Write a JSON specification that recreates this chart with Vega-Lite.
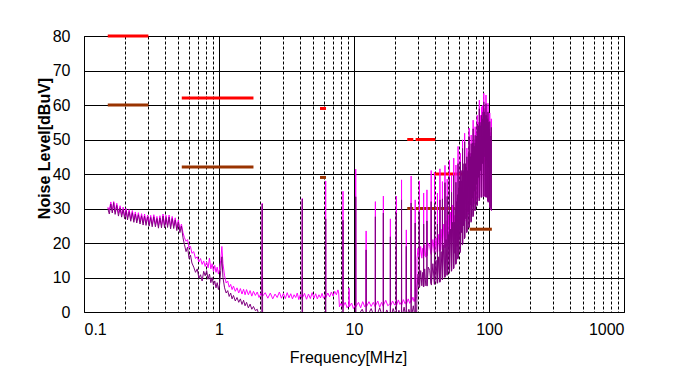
{
"$schema": "https://vega.github.io/schema/vega-lite/v6.json",
"width": 540, "height": 276,
"autosize": {"type": "none"},
"padding": {"left": 84, "top": 36, "right": 54, "bottom": 67},
"background": "white",
"config": {"view": {"stroke": "black", "strokeWidth": 1}, "font": "Liberation Sans"},
"datasets": {
"limits": [
{"f":0.15,"f2":0.3,"v":80,"k":"Peak limit"},
{"f":0.53,"f2":1.8,"v":62,"k":"Peak limit"},
{"f":5.6,"f2":6.2,"v":59,"k":"Peak limit"},
{"f":24.8,"f2":27.5,"v":50,"k":"Peak limit"},
{"f":28.6,"f2":40,"v":50,"k":"Peak limit"},
{"f":39,"f2":82,"v":40,"k":"Peak limit"},
{"f":76,"f2":105,"v":44,"k":"Peak limit"},
{"f":0.15,"f2":0.3,"v":60,"k":"Average limit"},
{"f":0.53,"f2":1.8,"v":42,"k":"Average limit"},
{"f":5.6,"f2":6.2,"v":39,"k":"Average limit"},
{"f":24.8,"f2":27.5,"v":30,"k":"Average limit"},
{"f":28.6,"f2":66,"v":30,"k":"Average limit"},
{"f":72,"f2":105,"v":24,"k":"Average limit"}
],
"peak": [
{"f":0.150,"v":30.4},{"f":0.154,"v":29.5},{"f":0.158,"v":31.9},{"f":0.162,"v":29.4},{"f":0.166,"v":32.0},{"f":0.170,"v":29.0},{"f":0.175,"v":31.5},{"f":0.180,"v":28.6},{"f":0.185,"v":30.8},{"f":0.190,"v":28.2},{"f":0.195,"v":30.4},{"f":0.200,"v":27.8},{"f":0.205,"v":30.0},{"f":0.210,"v":27.4},{"f":0.216,"v":29.7},{"f":0.222,"v":27.0},{"f":0.228,"v":29.4},{"f":0.234,"v":26.7},{"f":0.240,"v":29.0},{"f":0.246,"v":26.5},{"f":0.253,"v":28.8},{"f":0.260,"v":26.2},{"f":0.267,"v":28.5},{"f":0.274,"v":25.9},{"f":0.281,"v":28.4},{"f":0.288,"v":25.8},{"f":0.296,"v":28.1},{"f":0.304,"v":25.6},{"f":0.312,"v":28.0},{"f":0.320,"v":25.4},{"f":0.329,"v":28.2},{"f":0.338,"v":25.4},{"f":0.347,"v":27.7},{"f":0.356,"v":25.0},{"f":0.365,"v":27.9},{"f":0.375,"v":25.1},{"f":0.385,"v":28.4},{"f":0.395,"v":25.1},{"f":0.405,"v":28.0},{"f":0.416,"v":25.2},{"f":0.427,"v":28.1},{"f":0.438,"v":24.8},{"f":0.450,"v":27.7},{"f":0.462,"v":24.9},{"f":0.474,"v":27.3},{"f":0.487,"v":24.3},{"f":0.500,"v":26.7},{"f":0.513,"v":23.8},{"f":0.527,"v":25.5},{"f":0.541,"v":23.0},{"f":0.555,"v":21.5},
{"f":0.57,"v":20.5},{"f":0.585,"v":21.0},{"f":0.60,"v":18.5},{"f":0.615,"v":19.0},{"f":0.63,"v":17.0},{"f":0.65,"v":17.5},{"f":0.67,"v":15.5},{"f":0.69,"v":16.0},{"f":0.71,"v":14.5},{"f":0.73,"v":15.5},{"f":0.75,"v":13.8},{"f":0.77,"v":14.8},{"f":0.79,"v":13.2},{"f":0.81,"v":14.5},{"f":0.83,"v":12.8},{"f":0.85,"v":15.6},{"f":0.87,"v":12.5},{"f":0.89,"v":14.0},{"f":0.91,"v":11.8},{"f":0.93,"v":13.5},{"f":0.95,"v":11.5},{"f":0.97,"v":13.0},{"f":0.99,"v":11.0},{"f":1.01,"v":12.5},{"f":1.03,"v":15.0},{"f":1.05,"v":19.0},{"f":1.07,"v":14.0},{"f":1.10,"v":10.5},{"f":1.13,"v":8.4},{"f":1.16,"v":9.0},{"f":1.19,"v":7.2},{"f":1.22,"v":8.0},{"f":1.25,"v":6.5},{"f":1.28,"v":7.5},{"f":1.32,"v":6.0},{"f":1.36,"v":7.0},{"f":1.40,"v":5.5},{"f":1.44,"v":6.8},{"f":1.48,"v":5.2},{"f":1.52,"v":6.6},{"f":1.56,"v":5.0},{"f":1.60,"v":6.5},{"f":1.65,"v":5.0},{"f":1.70,"v":6.2},{"f":1.75,"v":4.6},{"f":1.80,"v":6.0},{"f":1.86,"v":4.8},{"f":1.92,"v":5.8},{"f":1.98,"v":4.2},{"f":2.05,"v":5.5},{"f":2.075,"v":4.8},{"f":2.09,"v":31.5},{"f":2.105,"v":4.6},{"f":2.2,"v":5.6},{"f":2.3,"v":4.0},{"f":2.4,"v":5.5},{"f":2.5,"v":3.8},{"f":2.6,"v":5.2},{"f":2.7,"v":4.2},{"f":2.8,"v":5.8},{"f":2.9,"v":4.0},{"f":3.0,"v":5.4},{"f":3.1,"v":3.9},{"f":3.2,"v":5.6},{"f":3.3,"v":4.1},{"f":3.4,"v":5.3},{"f":3.5,"v":3.8},{"f":3.6,"v":5.0},{"f":3.7,"v":4.2},{"f":3.8,"v":5.5},{"f":3.9,"v":3.6},{"f":4.0,"v":5.0},{"f":4.12,"v":4.0},{"f":4.14,"v":32.9},{"f":4.16,"v":4.2},{"f":4.3,"v":5.4},{"f":4.45,"v":3.7},{"f":4.6,"v":5.2},{"f":4.75,"v":3.9},{"f":4.9,"v":5.6},{"f":5.05,"v":4.0},{"f":5.2,"v":5.3},{"f":5.35,"v":3.8},{"f":5.5,"v":5.0},{"f":5.65,"v":4.1},{"f":5.8,"v":5.4},{"f":5.95,"v":4.0},{"f":6.15,"v":5.0},{"f":6.17,"v":38.0},{"f":6.19,"v":4.2},{"f":6.4,"v":5.5},{"f":6.6,"v":4.4},{"f":6.8,"v":5.8},{"f":7.0,"v":4.6},{"f":7.2,"v":6.0},{"f":7.4,"v":5.0},{"f":7.6,"v":6.4},{"f":7.7,"v":5.5},{"f":7.8,"v":1.5},{"f":8.0,"v":2.5},{"f":8.27,"v":1.2},{"f":8.29,"v":35.0},{"f":8.31,"v":1.5},{"f":8.6,"v":2.8},{"f":8.9,"v":1.2},{"f":9.15,"v":2.0},{"f":9.2,"v":7.0},{"f":9.25,"v":1.5},{"f":9.6,"v":2.6},{"f":9.9,"v":1.0},{"f":10.27,"v":2.2},{"f":10.3,"v":41.4},{"f":10.33,"v":1.5},{"f":10.8,"v":2.8},{"f":11.2,"v":1.2},{"f":11.6,"v":3.0},{"f":12.0,"v":1.5},{"f":12.27,"v":2.0},{"f":12.3,"v":23.5},{"f":12.33,"v":1.4},{"f":12.9,"v":3.0},{"f":13.4,"v":1.6},{"f":13.9,"v":2.8},{"f":14.37,"v":1.5},{"f":14.4,"v":32.0},{"f":14.43,"v":1.8},{"f":15.0,"v":3.2},{"f":15.5,"v":1.4},{"f":16.0,"v":2.8},{"f":16.47,"v":1.6},{"f":16.5,"v":33.6},{"f":16.53,"v":2.0},{"f":17.2,"v":3.4},{"f":17.8,"v":1.8},{"f":18.57,"v":2.5},{"f":18.6,"v":27.0},{"f":18.63,"v":1.7},{"f":19.3,"v":3.2},{"f":20.0,"v":2.0},{"f":20.57,"v":2.6},{"f":20.6,"v":33.6},{"f":20.63,"v":1.8},{"f":21.3,"v":3.5},{"f":21.9,"v":2.2},{"f":22.47,"v":2.9},{"f":22.5,"v":38.3},{"f":22.53,"v":2.0},{"f":23.2,"v":3.6},{"f":23.9,"v":2.4},{"f":24.37,"v":3.0},{"f":24.4,"v":23.8},{"f":24.43,"v":2.2},{"f":25.2,"v":3.8},{"f":25.9,"v":2.5},{"f":26.47,"v":3.5},{"f":26.5,"v":39.4},{"f":26.53,"v":2.8},{"f":27.3,"v":4.3},{"f":27.9,"v":3.0},{"f":28.37,"v":4.0},{"f":28.4,"v":32.5},{"f":28.43,"v":3.2},{"f":29.1,"v":4.5},
{"f":29.3,"v":15.5},{"f":29.8,"v":18.5},{"f":30.4,"v":15.8},{"f":30.5,"v":38},{"f":30.6,"v":16.0},{"f":31.2,"v":19.0},{"f":31.8,"v":15.6},{"f":32.3,"v":18.5},{"f":32.7,"v":16.1},{"f":32.8,"v":34.5},{"f":32.9,"v":16.2},{"f":33.4,"v":19.5},{"f":34.0,"v":15.9},{"f":34.6,"v":16.4},{"f":34.7,"v":35.4},{"f":34.8,"v":16.3},{"f":35.5,"v":20.0},{"f":36.4,"v":19.0},{"f":37.2,"v":16.9},{"f":37.3,"v":41},{"f":37.4,"v":16.6},{"f":38.4,"v":21.0},{"f":39.4,"v":17.0},{"f":39.5,"v":40.5},{"f":39.6,"v":17.1},{"f":40.5,"v":21.5},{"f":41.4,"v":17.3},{"f":41.5,"v":34.5},{"f":41.6,"v":17.4},{"f":42.4,"v":22.5},{"f":43.2,"v":17.6},{"f":43.3,"v":41.5},{"f":43.4,"v":17.7},{"f":44.2,"v":24.0},{"f":45.1,"v":18.0},{"f":45.2,"v":37.8},{"f":45.3,"v":18.2},{"f":46.2,"v":25.5},{"f":47.1,"v":18.6},{"f":47.2,"v":42.5},{"f":47.3,"v":18.7},{"f":48.1,"v":26.5},{"f":48.9,"v":19.0},{"f":49.0,"v":38.5},{"f":49.1,"v":19.2},{"f":50.0,"v":28.0},{"f":50.8,"v":19.5},{"f":50.9,"v":44},{"f":51.0,"v":19.7},{"f":51.9,"v":29.0},{"f":52.7,"v":20.2},{"f":52.8,"v":39.7},{"f":52.9,"v":20.3},{"f":53.8,"v":31.0},{"f":54.6,"v":20.8},{"f":54.8,"v":44.6},{"f":54.9,"v":21.0},
{"f":55.8,"v":28},{"f":56.7,"v":21.8},{"f":56.9,"v":42.6},{"f":57.1,"v":22.0},{"f":58.0,"v":33},{"f":58.8,"v":22.5},{"f":59.0,"v":48},{"f":59.2,"v":22.8},{"f":60.1,"v":35},{"f":61.1,"v":23.6},{"f":61.3,"v":46},{"f":61.5,"v":24.0},{"f":62.5,"v":38},{"f":63.5,"v":24.8},{"f":63.7,"v":49.9},{"f":63.9,"v":25.2},{"f":64.8,"v":40},{"f":65.8,"v":26.0},{"f":66.0,"v":51.8},{"f":66.2,"v":26.3},{"f":67.3,"v":42},{"f":68.4,"v":27.3},{"f":68.6,"v":47.5},{"f":68.8,"v":27.6},{"f":70.0,"v":44},{"f":71.1,"v":28.5},{"f":71.3,"v":53.3},{"f":71.5,"v":28.8},{"f":72.5,"v":46},{"f":73.6,"v":29.6},{"f":73.8,"v":51.3},{"f":74.0,"v":29.9},{"f":75.0,"v":48},{"f":76.1,"v":30.5},{"f":76.3,"v":55.6},{"f":76.5,"v":30.7},{"f":77.6,"v":50},{"f":78.8,"v":31.3},{"f":79.0,"v":53.7},{"f":79.2,"v":31.5},{"f":80.4,"v":52},{"f":81.6,"v":32.2},{"f":81.8,"v":57},{"f":82.0,"v":32.3},{"f":83.3,"v":55},{"f":84.5,"v":33.0},{"f":84.8,"v":61.4},{"f":85.1,"v":33.2},{"f":86.4,"v":57},{"f":87.7,"v":33.4},{"f":88.0,"v":59.5},{"f":88.3,"v":33.5},{"f":89.7,"v":60},{"f":91.2,"v":33.5},{"f":91.5,"v":63.4},{"f":91.8,"v":33.5},{"f":93.2,"v":59},{"f":94.7,"v":33.4},{"f":95.0,"v":62.9},{"f":95.3,"v":33.3},{"f":96.6,"v":58},{"f":98.0,"v":32.3},{"f":98.3,"v":60.5},{"f":98.6,"v":32.0},{"f":99.8,"v":56},{"f":101.0,"v":30.7},{"f":101.3,"v":57.7},{"f":101.6,"v":30.4},{"f":102.6,"v":52},{"f":103.7,"v":29.6},{"f":104.0,"v":56},{"f":104.3,"v":29.4}
],
"avg": [
{"f":0.150,"v":30.0},{"f":0.154,"v":28.4},{"f":0.158,"v":31.3},{"f":0.162,"v":28.7},{"f":0.166,"v":31.7},{"f":0.170,"v":28.3},{"f":0.175,"v":30.9},{"f":0.180,"v":27.8},{"f":0.185,"v":30.2},{"f":0.190,"v":27.5},{"f":0.195,"v":29.8},{"f":0.200,"v":27.0},{"f":0.205,"v":29.4},{"f":0.210,"v":26.7},{"f":0.216,"v":29.1},{"f":0.222,"v":26.3},{"f":0.228,"v":28.8},{"f":0.234,"v":26.0},{"f":0.240,"v":28.4},{"f":0.246,"v":25.8},{"f":0.253,"v":28.2},{"f":0.260,"v":25.5},{"f":0.267,"v":27.9},{"f":0.274,"v":25.2},{"f":0.281,"v":27.8},{"f":0.288,"v":25.1},{"f":0.296,"v":27.5},{"f":0.304,"v":24.9},{"f":0.312,"v":27.4},{"f":0.320,"v":24.7},{"f":0.329,"v":27.6},{"f":0.338,"v":24.7},{"f":0.347,"v":27.1},{"f":0.356,"v":24.3},{"f":0.365,"v":27.3},{"f":0.375,"v":24.4},{"f":0.385,"v":27.8},{"f":0.395,"v":24.4},{"f":0.405,"v":27.4},{"f":0.416,"v":24.5},{"f":0.427,"v":27.5},{"f":0.438,"v":24.1},{"f":0.450,"v":27.1},{"f":0.462,"v":24.2},{"f":0.474,"v":26.7},{"f":0.487,"v":23.6},{"f":0.500,"v":26.1},{"f":0.513,"v":23.0},{"f":0.527,"v":24.9},{"f":0.541,"v":21.5},{"f":0.555,"v":19.5},
{"f":0.57,"v":17.5},{"f":0.585,"v":18.8},{"f":0.60,"v":15.5},{"f":0.615,"v":16.5},{"f":0.63,"v":14.2},{"f":0.65,"v":13.0},{"f":0.67,"v":11.5},{"f":0.69,"v":12.5},{"f":0.71,"v":9.8},{"f":0.73,"v":10.8},{"f":0.75,"v":9.0},{"f":0.77,"v":11.8},{"f":0.79,"v":10.5},{"f":0.81,"v":12.0},{"f":0.83,"v":9.5},{"f":0.85,"v":11.0},{"f":0.87,"v":8.5},{"f":0.89,"v":10.0},{"f":0.91,"v":7.8},{"f":0.93,"v":9.0},{"f":0.95,"v":7.0},{"f":0.97,"v":8.5},{"f":0.99,"v":6.5},{"f":1.01,"v":8.0},{"f":1.03,"v":12.0},{"f":1.05,"v":16.0},{"f":1.07,"v":10.0},{"f":1.10,"v":7.0},{"f":1.13,"v":5.5},{"f":1.16,"v":6.2},{"f":1.19,"v":4.5},{"f":1.22,"v":5.5},{"f":1.25,"v":3.8},{"f":1.28,"v":4.8},{"f":1.32,"v":3.2},{"f":1.36,"v":4.2},{"f":1.40,"v":2.8},{"f":1.44,"v":3.8},{"f":1.48,"v":2.2},{"f":1.52,"v":3.4},{"f":1.56,"v":1.8},{"f":1.60,"v":2.8},{"f":1.65,"v":1.2},{"f":1.70,"v":2.3},{"f":1.75,"v":0.8},{"f":1.80,"v":1.6},{"f":1.86,"v":0.4},{"f":1.92,"v":0.8},{"f":1.98,"v":-1},
{"f":2.075,"v":-2},{"f":2.09,"v":31.3},{"f":2.105,"v":-2},{"f":4.12,"v":-2},{"f":4.14,"v":32.7},{"f":4.16,"v":-2},{"f":6.15,"v":-2},{"f":6.17,"v":27},{"f":6.19,"v":-2},{"f":8.27,"v":-2},{"f":8.29,"v":26.6},{"f":8.31,"v":-2},{"f":10.27,"v":-2},{"f":10.3,"v":33.4},{"f":10.33,"v":-2},{"f":11.5,"v":0.8},{"f":12.27,"v":-2},{"f":12.3,"v":18},{"f":12.33,"v":-2},{"f":13.4,"v":1.0},{"f":14.37,"v":-2},{"f":14.4,"v":27.6},{"f":14.43,"v":-2},{"f":15.5,"v":1.2},{"f":16.47,"v":-2},{"f":16.5,"v":28.7},{"f":16.53,"v":-2},{"f":17.5,"v":0.6},{"f":18.57,"v":-2},{"f":18.6,"v":21.8},{"f":18.63,"v":-2},{"f":19.5,"v":1.0},{"f":20.57,"v":-2},{"f":20.6,"v":28.7},{"f":20.63,"v":-2},{"f":21.5,"v":0.5},{"f":22.47,"v":-2},{"f":22.5,"v":32.5},{"f":22.53,"v":-2},{"f":23.5,"v":1.4},{"f":24.37,"v":-2},{"f":24.4,"v":19},{"f":24.43,"v":-2},{"f":25.5,"v":0.8},{"f":26.47,"v":-2},{"f":26.5,"v":31.6},{"f":26.53,"v":-2},{"f":27.5,"v":1.8},{"f":28.37,"v":-2},{"f":28.4,"v":25.8},{"f":28.43,"v":-2},{"f":29.1,"v":-1},
{"f":29.3,"v":7.0},{"f":29.8,"v":11.0},{"f":30.4,"v":7.0},{"f":30.5,"v":29},{"f":30.6,"v":7.2},{"f":31.2,"v":12.0},{"f":31.8,"v":7.6},{"f":32.3,"v":11.5},{"f":32.7,"v":7.3},{"f":32.8,"v":25.5},{"f":32.9,"v":7.4},{"f":33.4,"v":12.5},{"f":34.0,"v":7.6},{"f":34.6,"v":7.9},{"f":34.7,"v":26.4},{"f":34.8,"v":7.5},{"f":35.5,"v":13.0},{"f":36.4,"v":12.0},{"f":37.2,"v":8.2},{"f":37.3,"v":32},{"f":37.4,"v":7.8},{"f":38.4,"v":14.0},{"f":39.4,"v":8.0},{"f":39.5,"v":31.5},{"f":39.6,"v":8.1},{"f":40.5,"v":15.0},{"f":41.4,"v":8.3},{"f":41.5,"v":25.5},{"f":41.6,"v":8.4},{"f":42.4,"v":16.0},{"f":43.2,"v":8.6},{"f":43.3,"v":32.5},{"f":43.4,"v":8.8},{"f":44.2,"v":17.5},{"f":45.1,"v":9.3},{"f":45.2,"v":32.8},{"f":45.3,"v":9.5},{"f":46.2,"v":19.5},{"f":47.1,"v":10.0},{"f":47.2,"v":37.5},{"f":47.3,"v":10.2},{"f":48.1,"v":21.0},{"f":48.9,"v":10.6},{"f":49.0,"v":33.5},{"f":49.1,"v":10.8},{"f":50.0,"v":22.5},{"f":50.8,"v":11.2},{"f":50.9,"v":39},{"f":51.0,"v":11.4},{"f":51.9,"v":24.0},{"f":52.7,"v":11.8},{"f":52.8,"v":34.7},{"f":52.9,"v":12.0},{"f":53.8,"v":26.0},{"f":54.6,"v":12.5},{"f":54.8,"v":39.6},{"f":54.9,"v":12.7},
{"f":55.5,"v":26},{"f":55.9,"v":17},{"f":56.3,"v":30},{"f":56.7,"v":13.8},{"f":56.9,"v":37.6},{"f":57.1,"v":14.0},{"f":57.6,"v":32},{"f":58.0,"v":19},{"f":58.4,"v":34},{"f":58.8,"v":15.3},{"f":59.0,"v":43},{"f":59.2,"v":15.6},{"f":59.7,"v":36},{"f":60.1,"v":21},{"f":60.6,"v":38},{"f":61.1,"v":17.2},{"f":61.3,"v":43.5},{"f":61.5,"v":17.6},{"f":62.1,"v":38},{"f":62.5,"v":23},{"f":62.9,"v":41},{"f":63.5,"v":19.4},{"f":63.7,"v":47.4},{"f":63.9,"v":19.7},{"f":64.4,"v":41},{"f":64.8,"v":25},{"f":65.2,"v":43},{"f":65.8,"v":21.2},{"f":66.0,"v":49.3},{"f":66.2,"v":21.5},{"f":66.8,"v":43},{"f":67.3,"v":27},{"f":67.8,"v":42},{"f":68.4,"v":23.0},{"f":68.6,"v":45},{"f":68.8,"v":23.3},{"f":69.5,"v":41},{"f":70.0,"v":29},{"f":70.4,"v":46},{"f":71.1,"v":24.4},{"f":71.3,"v":50.8},{"f":71.5,"v":24.7},{"f":72.1,"v":46},{"f":72.5,"v":31},{"f":72.9,"v":45},{"f":73.6,"v":26.0},{"f":73.8,"v":48.8},{"f":74.0,"v":26.3},{"f":74.6,"v":46},{"f":75.0,"v":33},{"f":75.5,"v":49},{"f":76.1,"v":27.6},{"f":76.3,"v":53.1},{"f":76.5,"v":27.9},{"f":77.2,"v":49},{"f":77.6,"v":35},{"f":78.1,"v":48},{"f":78.8,"v":29.3},{"f":79.0,"v":51.2},{"f":79.2,"v":29.6},{"f":79.9,"v":49},{"f":80.4,"v":37},{"f":80.9,"v":51},{"f":81.6,"v":30.8},{"f":81.8,"v":54.5},{"f":82.0,"v":31.0},{"f":82.8,"v":53},{"f":83.3,"v":39},{"f":83.8,"v":54},{"f":84.5,"v":32.2},{"f":84.8,"v":58.9},{"f":85.1,"v":32.5},{"f":85.8,"v":55},{"f":86.4,"v":41},{"f":87.0,"v":54},{"f":87.7,"v":33.2},{"f":88.0,"v":57},{"f":88.3,"v":33.3},{"f":89.1,"v":56},{"f":89.7,"v":43},{"f":90.3,"v":58},{"f":91.2,"v":33.5},{"f":91.5,"v":60.9},{"f":91.8,"v":33.5},{"f":92.6,"v":58},{"f":93.2,"v":45},{"f":93.9,"v":57},{"f":94.7,"v":33.4},{"f":95.0,"v":60.4},{"f":95.3,"v":33.2},{"f":96.1,"v":57},{"f":96.6,"v":44},{"f":97.2,"v":56},{"f":98.0,"v":32.3},{"f":98.3,"v":58},{"f":98.6,"v":31.8},{"f":99.3,"v":55},{"f":99.8,"v":42},{"f":100.3,"v":53},{"f":101.0,"v":30.6},{"f":101.3,"v":55.2},{"f":101.6,"v":30.2},{"f":102.2,"v":50},{"f":102.6,"v":40},{"f":103.1,"v":51},{"f":103.7,"v":29.6},{"f":104.0,"v":53.5},{"f":104.3,"v":29.4}
]
},
"encoding": {
"x": {"field": "f", "type": "quantitative",
 "scale": {"type": "log", "domain": [0.1, 1000]},
 "axis": {
  "values": [0.1,0.2,0.3,0.4,0.5,0.6,0.7,0.8,0.9,1,2,3,4,5,6,7,8,9,10,20,30,40,50,60,70,80,90,100,200,300,400,500,600,700,800,900,1000],
  "labelExpr": "abs(log(datum.value)/LN10 - round(log(datum.value)/LN10)) < 0.001 ? format(datum.value, '~g') : ''",
  "labelFlush": true, "labelOverlap": false, "labelFontSize": 16, "labelColor": "black", "labelPadding": 9,
  "ticks": false, "domain": false,
  "grid": true, "gridColor": "black", "gridOpacity": 1, "gridWidth": 1,
  "gridDash": {"condition": {"test": "abs(log(datum.value)/LN10 - round(log(datum.value)/LN10)) < 0.001", "value": []}, "value": [3, 2]},
  "title": "Frequency[MHz]", "titleFontSize": 16, "titleFontWeight": "normal", "titleColor": "black",
  "titleX": 264, "titleY": 45, "titleBaseline": "middle", "titleAlign": "center"
 }},
"y": {"field": "v", "type": "quantitative",
 "scale": {"domain": [0, 80]},
 "axis": {
  "values": [0,10,20,30,40,50,60,70,80],
  "ticks": false, "domain": false,
  "grid": true, "gridColor": "black", "gridOpacity": 1, "gridWidth": 1,
  "labelFontSize": 16, "labelColor": "black", "labelPadding": 14,
  "title": "Noise Level[dBuV]", "titleFontSize": 16, "titleFontWeight": "bold", "titleColor": "black",
  "titleX": -40, "titleY": 112, "titleAngle": -90, "titleAlign": "center", "titleBaseline": "middle"
 }}
},
"layer": [
{"data": {"name": "limits"}, "mark": {"type": "rule", "strokeWidth": 3},
 "encoding": {"x2": {"field": "f2"},
  "color": {"field": "k", "type": "nominal", "scale": {"domain": ["Peak limit", "Average limit"], "range": ["#FF0000", "#993300"]}, "legend": null}}},
{"data": {"name": "peak"}, "mark": {"type": "line", "color": "#FF00FF", "strokeWidth": 1, "clip": true}, "encoding": {}},
{"data": {"name": "avg"}, "mark": {"type": "line", "color": "#800080", "strokeWidth": 1, "clip": true}, "encoding": {}}
]
}
